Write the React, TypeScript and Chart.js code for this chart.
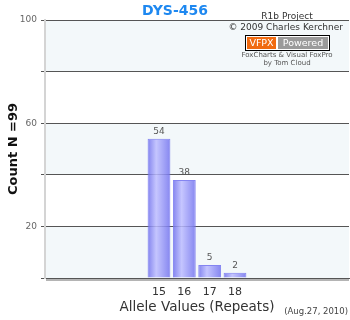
import React, { useEffect, useRef } from "react";
import { Chart, registerables } from "chart.js";

Chart.register(...registerables);

const alleles = ["11", "12", "13", "14", "15", "16", "17", "18", "19", "20", "21", "22"];
const counts: (number | null)[] = [null, null, null, null, 54, 38, 5, 2, null, null, null, null];
const yLabeledTicks = [20, 60, 100];
const chartTitle = "DYS-456";
const yTitle = "Count N =99";
const xTitle = "Allele Values (Repeats)";
const creditLines = ["R1b Project", "\u00A9 2009 Charles Kerchner"];
const foxLines = ["FoxCharts & Visual FoxPro", "by Tom Cloud"];
const dateText = "(Aug.27, 2010)";

const FONT = "'DejaVu Sans', Verdana, sans-serif";
const BAR_PCT = 0.9;

const decorPlugin = {
  id: "decor",
  beforeDraw(chart: any) {
    const { ctx, chartArea, scales } = chart;
    const y = scales.y;
    ctx.save();
    ctx.fillStyle = "#ffffff";
    ctx.fillRect(0, 0, chart.width, chart.height);
    for (let v = 0; v < 100; v += 20) {
      const top = y.getPixelForValue(v + 20);
      const bot = y.getPixelForValue(v);
      ctx.fillStyle = (v / 20) % 2 === 0 ? "#f3f8fa" : "#ffffff";
      ctx.fillRect(chartArea.left, top, chartArea.right - chartArea.left, bot - top);
    }
    ctx.restore();
  },
  afterDatasetsDraw(chart: any) {
    const { ctx, chartArea } = chart;
    const meta = chart.getDatasetMeta(0);
    ctx.save();
    // bottom shadow under the base line
    ctx.fillStyle = "#b4b4b4";
    ctx.fillRect(chartArea.left + 1, chartArea.bottom + 1, chartArea.right - chartArea.left - 1, 2);
    ctx.font = `9px ${FONT}`;
    ctx.fillStyle = "#555555";
    ctx.textAlign = "center";
    ctx.textBaseline = "middle";
    meta.data.forEach((el: any, i: number) => {
      const v = counts[i];
      if (v === null || v === undefined) return;
      ctx.fillText(String(v), el.x, el.y - 7.5);
    });
    ctx.restore();
  },
  afterDraw(chart: any) {
    const { ctx } = chart;
    ctx.save();
    ctx.textBaseline = "middle";
    ctx.font = `bold 14px ${FONT}`;
    ctx.fillStyle = "#1e88f0";
    ctx.textAlign = "center";
    ctx.fillText(chartTitle, 175, 11);
    ctx.font = `9px ${FONT}`;
    ctx.fillStyle = "#333333";
    ctx.fillText(creditLines[0], 287, 17);
    ctx.textAlign = "right";
    ctx.fillText(creditLines[1], 343, 28);
    ctx.fillStyle = "#000000";
    ctx.fillRect(245, 35, 85, 16);
    ctx.fillStyle = "#ffffff";
    ctx.fillRect(246, 36, 83, 14);
    ctx.fillStyle = "#f06a10";
    ctx.fillRect(247, 37, 29, 12);
    ctx.fillStyle = "#9a9a9a";
    ctx.fillRect(278, 37, 50, 12);
    ctx.fillStyle = "#ffffff";
    ctx.textAlign = "center";
    ctx.font = `9.5px ${FONT}`;
    ctx.fillText("VFPX", 261.5, 43.5);
    ctx.fillText("Powered", 303, 43.5);
    ctx.font = `7px ${FONT}`;
    ctx.fillStyle = "#555555";
    ctx.fillText(foxLines[0], 287, 55);
    ctx.fillText(foxLines[1], 287, 63);
    ctx.font = `8.5px ${FONT}`;
    ctx.fillStyle = "#444444";
    ctx.textAlign = "right";
    ctx.fillText(dateText, 348, 312);
    ctx.restore();
  },
};

export default function App() {
  const ref = useRef<HTMLCanvasElement | null>(null);

  useEffect(() => {
    document.body.style.margin = "0";
    if (!ref.current) return;
    const chart = new Chart(ref.current, {
      type: "bar",
      data: {
        labels: alleles,
        datasets: [
          {
            data: counts,
            backgroundColor: (c: any) => {
              const ch = c.chart;
              const xs = ch.scales && ch.scales.x;
              if (!xs || c.type !== "data" || !isFinite(xs.width)) return "rgba(140,140,245,0.85)";
              const cx = xs.getPixelForValue(c.dataIndex);
              const w = (xs.width / alleles.length) * BAR_PCT;
              const g = ch.ctx.createLinearGradient(cx - w / 2, 0, cx + w / 2, 0);
              g.addColorStop(0, "rgba(110,110,236,0.85)");
              g.addColorStop(0.38, "rgba(188,188,255,0.85)");
              g.addColorStop(1, "rgba(114,114,238,0.85)");
              return g;
            },
            borderColor: "rgba(120,120,240,0.9)",
            borderWidth: 1,
            barPercentage: BAR_PCT,
            categoryPercentage: 1,
          },
        ],
      },
      options: {
        animation: false,
        responsive: false,
        devicePixelRatio: 1,
        layout: { padding: { top: 20, right: 1, left: 0, bottom: 0 } },
        plugins: {
          legend: { display: false },
          tooltip: { enabled: false },
        },
        scales: {
          x: {
            grid: { display: false, drawTicks: false },
            border: { display: true, color: "#555555", width: 1 },
            ticks: {
              padding: 8,
              color: "#333333",
              font: { family: FONT, size: 11 },
              maxRotation: 0,
              autoSkip: false,
              callback: (_v: any, i: number) => (counts[i] === null ? "" : alleles[i]),
            },
            title: {
              display: true,
              text: xTitle,
              color: "#333333",
              font: { family: FONT, size: 13.5 },
              padding: { top: 0, bottom: 4 },
            },
            afterFit: (s: any) => {
              s.height = 42;
            },
          },
          y: {
            min: 0,
            max: 100,
            ticks: {
              stepSize: 20,
              padding: 4,
              color: "#666666",
              font: { family: FONT, size: 9 },
              callback: (v: any) => (yLabeledTicks.includes(Number(v)) ? String(v) : ""),
            },
            grid: {
              color: "#555555",
              lineWidth: 1,
              drawTicks: true,
              tickLength: 4,
            },
            border: { display: true, color: "#d4d4d4", width: 2 },
            title: {
              display: true,
              text: yTitle,
              color: "#111111",
              font: { family: FONT, size: 13, weight: "bold" },
              padding: { top: 6, bottom: 0 },
            },
            afterFit: (s: any) => {
              s.width = 45;
            },
          },
        },
      },
      plugins: [decorPlugin],
    });
    return () => chart.destroy();
  }, []);

  return (
    <div style={{ width: 350, height: 320 }}>
      <canvas ref={ref} width={350} height={320} style={{ display: "block" }} />
    </div>
  );
}
